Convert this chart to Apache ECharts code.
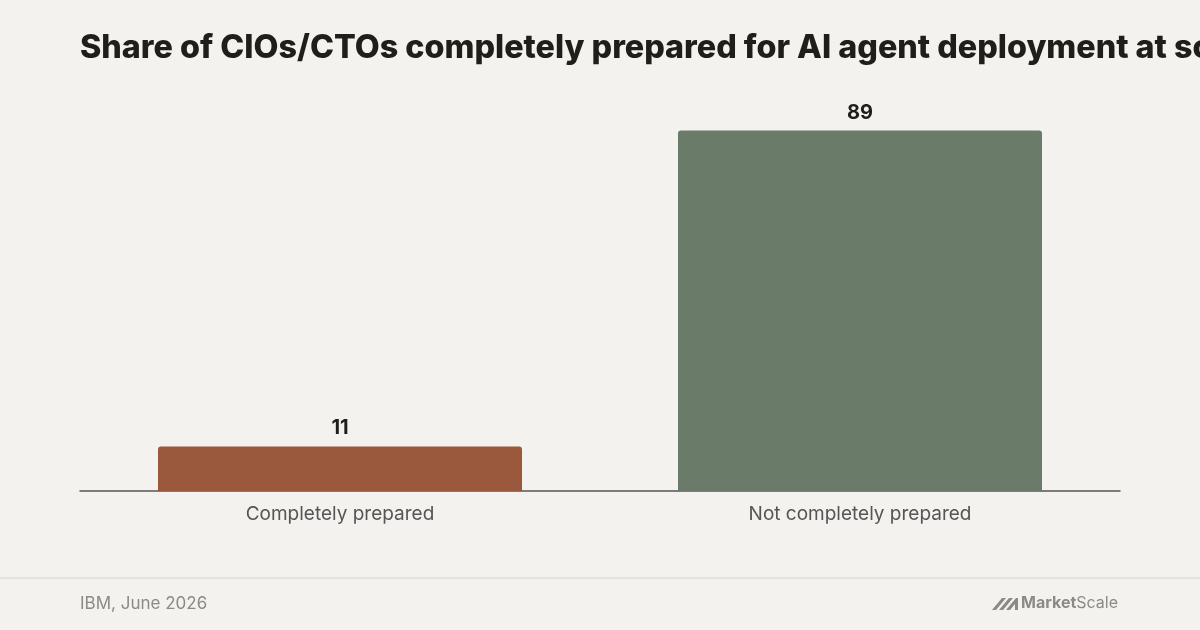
<!DOCTYPE html>
<html><head><meta charset="utf-8">
<script src="https://cdn.jsdelivr.net/npm/echarts@6/dist/echarts.min.js"></script>
<style>html,body{margin:0;background:#f4f2ee}#c{width:1200px;height:630px}</style>
</head><body><div id="c"></div>
<script>
const categories = ['Completely prepared', 'Not completely prepared'];
const values = [11, 89];
const colors = ['#9a593d', '#6a7b69'];
const chart = echarts.init(document.getElementById('c'));
chart.setOption({
  backgroundColor: '#f4f2ee',
  animation: false,
  title: {text: 'Share of CIOs/CTOs completely prepared for AI agent deployment at scale (%)', left: 75, top: 27,
    textStyle: {fontFamily: 'Inter', fontSize: 32.3, fontWeight: 800, color: '#1f1e1b'}},
  grid: {left: 80, right: 80, top: 86, bottom: 139},
  xAxis: {type: 'category', data: categories,
    axisLine: {lineStyle: {color: '#555', width: 1.5}}, axisTick: {show: false},
    axisLabel: {fontFamily: 'Inter', fontSize: 19, color: '#555', margin: 14}},
  yAxis: {type: 'value', min: 0, max: 100, show: false, splitLine: {show: false}},
  series: [{type: 'bar', barWidth: '70%',
    data: values.map((v, i) => ({value: v, itemStyle: {color: colors[i], borderRadius: [3,3,0,0]}})),
    label: {show: true, position: 'top', distance: 8, fontFamily: 'Inter', fontWeight: 'bold', fontSize: 20, color: '#1f1e1b'}}],
  graphic: [
    {type: 'rect', shape: {x: 0, y: 577, width: 1200, height: 2}, style: {fill: '#e6e3de'}},
    {type: 'text', left: 80, top: 595, style: {text: 'IBM, June 2026', font: '17px Inter', fill: '#8a8a86'}},
    {type: 'polygon', shape: {points: [[992,610],[1002,598],[1006,598],[996,610]]}, style: {fill: '#8a8a86'}},
    {type: 'polygon', shape: {points: [[999,610],[1009,598],[1013,598],[1003,610]]}, style: {fill: '#8a8a86'}},
    {type: 'polygon', shape: {points: [[1006,610],[1016,598],[1018,598],[1018,610],[1015,610],[1015,604],[1010,610]]}, style: {fill: '#8a8a86'}},
    {type: 'text', left: 1021, top: 595, style: {text: '{b|Market}{r|Scale}', rich: {b: {font: 'bold 16px Inter', fill: '#8a8a86'}, r: {font: '16px Inter', fill: '#8a8a86'}}}}
  ]
});
</script></body></html>
